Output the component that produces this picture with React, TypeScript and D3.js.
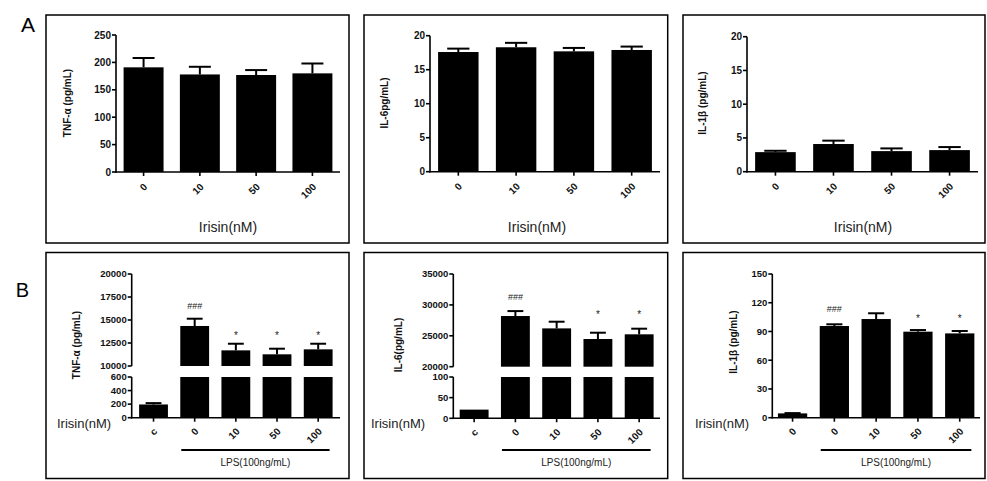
import React from "react";
import * as d3 from "d3";

// ---------- data ----------
const A_LABELS = ["0", "10", "50", "100"];
const B12_LABELS = ["c", "0", "10", "50", "100"];
const B3_LABELS = ["0", "0", "10", "50", "100"];

const TNF_A_MEAN = [191, 178, 177, 180];
const TNF_A_SEM = [17, 14, 9, 18];
const IL6_A_MEAN = [17.6, 18.3, 17.7, 17.9];
const IL6_A_SEM = [0.5, 0.65, 0.5, 0.5];
const IL1B_A_MEAN = [2.9, 4.1, 3.05, 3.2];
const IL1B_A_SEM = [0.2, 0.5, 0.4, 0.45];

const TNF_B_MEAN = [195, 14350, 11700, 11270, 11810];
const TNF_B_SEM = [20, 790, 720, 610, 610];
const IL6_B_MEAN = [21, 28200, 26200, 24480, 25240];
const IL6_B_SEM = [0, 800, 1080, 1020, 910];
const IL1B_B_MEAN = [4.5, 95.7, 103, 89.8, 88];
const IL1B_B_SEM = [0.3, 1.8, 6, 1.7, 2.5];

const TNF_B_SIG = ["", "###", "*", "*", "*"];
const TNF_B_SIG_AT = [0, 16550, 13590, 13590, 13590];
const IL6_B_SIG = ["", "###", "", "*", "*"];
const IL6_B_SIG_AT = [0, 31330, 0, 28900, 28900];
const IL1B_B_SIG = ["", "###", "", "*", "*"];
const IL1B_B_SIG_AT = [0, 113.5, 0, 106, 106];

const TICKS_TNF_A = [0, 50, 100, 150, 200, 250];
const TICKS_IL_A = [0, 5, 10, 15, 20];
const TICKS_TNF_B_LOW = [0, 200, 400, 600];
const TICKS_TNF_B_HIGH = [10000, 12500, 15000, 17500, 20000];
const TICKS_IL6_B_LOW = [0, 50, 100];
const TICKS_IL6_B_HIGH = [20000, 25000, 30000, 35000];
const TICKS_IL1B_B = [0, 30, 60, 90, 120, 150];

const FONT = "'Liberation Sans', Arial, Helvetica, sans-serif";

type Seg = { domain: [number, number]; range: [number, number]; ticks: number[] };

interface PanelProps {
  box: [number, number, number, number];
  axisX: number;
  xEnd: number;
  labels: string[];
  means: number[];
  sems: number[];
  lower: Seg;
  upper?: Seg;
  padInner: number;
  padOuter: number;
  yTitle: string;
  titleX: number;
  titleY: number;
  tickFont: number;
  sig?: string[];
  sigAt?: number[];
  row: "A" | "B";
  irisin: [number, number];
}

function Panel(p: PanelProps) {
  const idx = p.labels.map((_, i) => i);
  const x = d3
    .scaleBand<number>()
    .domain(idx)
    .range([p.axisX, p.xEnd])
    .paddingInner(p.padInner)
    .paddingOuter(p.padOuter);
  const bw = x.bandwidth();
  const yl = d3.scaleLinear().domain(p.lower.domain).range(p.lower.range);
  const yu = p.upper ? d3.scaleLinear().domain(p.upper.domain).range(p.upper.range) : null;
  const lowMax = p.lower.domain[1];
  const ypos = (v: number) => (yu && v > lowMax ? yu(v) : yl(v));
  const y0 = yl(0);
  const capW = bw * 0.55;

  const ticks: { v: number; y: number }[] = [
    ...p.lower.ticks.map((v) => ({ v, y: yl(v) })),
    ...(yu && p.upper ? p.upper.ticks.map((v) => ({ v, y: yu(v) })) : []),
  ];

  const [bx, by, bwid, bh] = p.box;

  let lps: React.ReactNode = null;
  if (p.row === "B") {
    const lx1 = (x(1) as number) + 1;
    const lx2 = (x(p.labels.length - 1) as number) + bw - 3;
    lps = (
      <g>
        <line x1={lx1} x2={lx2} y1={450} y2={450} stroke="#000" strokeWidth={2} />
        <text x={(lx1 + lx2) / 2} y={466} textAnchor="middle" fontSize={10} fontFamily={FONT} fill="#222">
          LPS(100ng/mL)
        </text>
      </g>
    );
  }

  return (
    <g>
      <rect x={bx} y={by} width={bwid} height={bh} fill="none" stroke="#000" strokeWidth={1.5} />
      {/* bars */}
      {p.means.map((m, i) => {
        const bxp = x(i) as number;
        if (yu && p.upper && m > p.upper.domain[0]) {
          return (
            <g key={i}>
              <rect x={bxp} y={yl(lowMax)} width={bw} height={y0 - yl(lowMax)} fill="#000" />
              <rect x={bxp} y={yu(m)} width={bw} height={yu(p.upper.domain[0]) - yu(m)} fill="#000" />
            </g>
          );
        }
        return <rect key={i} x={bxp} y={yl(m)} width={bw} height={y0 - yl(m)} fill="#000" />;
      })}
      {/* error bars */}
      {p.means.map((m, i) => {
        const cx = (x(i) as number) + bw / 2;
        const top = ypos(m + p.sems[i]);
        const base = ypos(m);
        if (p.sems[i] <= 0) return null;
        return (
          <g key={"e" + i} stroke="#000" strokeWidth={2}>
            <line x1={cx} x2={cx} y1={base} y2={top} />
            <line x1={cx - capW / 2} x2={cx + capW / 2} y1={top} y2={top} />
          </g>
        );
      })}
      {/* significance marks */}
      {p.sig &&
        p.sig.map((s, i) =>
          s ? (
            <text
              key={"s" + i}
              x={(x(i) as number) + bw / 2}
              y={ypos(p.sigAt![i]) + (s === "*" ? 6 : 3.5)}
              textAnchor="middle"
              fontSize={s === "*" ? 10 : 9}
              fontFamily={FONT}
              fill="#222"
            >
              {s}
            </text>
          ) : null
        )}
      {/* y axis */}
      <line x1={p.axisX} x2={p.axisX} y1={y0 + 0.75} y2={yl(lowMax)} stroke="#000" strokeWidth={1.6} />
      {yu && p.upper && (
        <line x1={p.axisX} x2={p.axisX} y1={yu(p.upper.domain[0])} y2={yu(p.upper.domain[1])} stroke="#000" strokeWidth={1.6} />
      )}
      {ticks.map((t, i) => (
        <g key={"t" + i}>
          <line x1={p.axisX - 4} x2={p.axisX} y1={t.y} y2={t.y} stroke="#000" strokeWidth={1.6} />
          <text
            x={p.axisX - 5}
            y={t.y}
            dy="0.35em"
            textAnchor="end"
            fontSize={p.tickFont}
            fontWeight="bold"
            fontFamily={FONT}
            fill="#111"
          >
            {t.v}
          </text>
        </g>
      ))}
      {/* x axis */}
      <line x1={p.axisX - 0.8} x2={p.xEnd} y1={y0} y2={y0} stroke="#000" strokeWidth={1.6} />
      {idx.map((i) => {
        const cx = (x(i) as number) + bw / 2;
        return (
          <g key={"x" + i}>
            <line x1={cx} x2={cx} y1={y0} y2={y0 + 4} stroke="#000" strokeWidth={1.6} />
            <text
              transform={`translate(${cx + 2},${y0 + (p.row === "A" ? 13 : 12)}) rotate(-45)`}
              dy="0.35em"
              textAnchor="end"
              fontSize={10}
              fontWeight="bold"
              fontFamily={FONT}
              fill="#111"
            >
              {p.labels[i]}
            </text>
          </g>
        );
      })}
      {/* y title */}
      <text
        transform={`translate(${p.titleX},${p.titleY}) rotate(-90)`}
        dy="0.35em"
        textAnchor="middle"
        fontSize={10}
        fontWeight="bold"
        fontFamily={FONT}
        fill="#111"
      >
        {p.yTitle}
      </text>
      {/* Irisin label */}
      <text
        x={p.irisin[0]}
        y={p.irisin[1]}
        dy="0.35em"
        textAnchor={p.row === "A" ? "middle" : "start"}
        fontSize={p.row === "A" ? 14 : 13}
        fontFamily={FONT}
        fill="#222"
      >
        Irisin(nM)
      </text>
      {lps}
    </g>
  );
}

export default function App() {
  return (
    <svg
      width={987}
      height={481}
      style={{ position: "absolute", left: 0, top: 0, background: "#fff" }}
    >
      <rect x={0} y={0} width={987} height={481} fill="#fff" />
      <text x={28} y={24.5} dy="0.35em" textAnchor="middle" fontSize={21} fontFamily={FONT} fill="#000">
        A
      </text>
      <text x={22.5} y={290} dy="0.35em" textAnchor="middle" fontSize={20} fontFamily={FONT} fill="#000">
        B
      </text>

      <Panel
        box={[46, 15, 303, 228]}
        axisX={116}
        xEnd={340}
        labels={A_LABELS}
        means={TNF_A_MEAN}
        sems={TNF_A_SEM}
        lower={{ domain: [0, 250], range: [172, 35], ticks: TICKS_TNF_A }}
        padInner={0.29}
        padOuter={0.135}
        yTitle="TNF-α (pg/mL)"
        titleX={67}
        titleY={103}
        tickFont={10}
        row="A"
        irisin={[228, 227]}
      />
      <Panel
        box={[364, 15, 303.7, 228]}
        axisX={430}
        xEnd={660}
        labels={A_LABELS}
        means={IL6_A_MEAN}
        sems={IL6_A_SEM}
        lower={{ domain: [0, 20], range: [171.7, 35.7], ticks: TICKS_IL_A }}
        padInner={0.3}
        padOuter={0.14}
        yTitle="IL-6pg/mL)"
        titleX={384}
        titleY={103}
        tickFont={10}
        row="A"
        irisin={[537, 227]}
      />
      <Panel
        box={[683, 15, 302, 228]}
        axisX={747}
        xEnd={978}
        labels={A_LABELS}
        means={IL1B_A_MEAN}
        sems={IL1B_A_SEM}
        lower={{ domain: [0, 20], range: [171.7, 36.7], ticks: TICKS_IL_A }}
        padInner={0.3}
        padOuter={0.14}
        yTitle="IL-1β (pg/mL)"
        titleX={702}
        titleY={103}
        tickFont={10}
        row="A"
        irisin={[863, 227]}
      />

      <Panel
        box={[46, 252.5, 303, 226]}
        axisX={131.7}
        xEnd={340}
        labels={B12_LABELS}
        means={TNF_B_MEAN}
        sems={TNF_B_SEM}
        lower={{ domain: [0, 600], range: [417.7, 377], ticks: TICKS_TNF_B_LOW }}
        upper={{ domain: [10000, 20000], range: [366, 274], ticks: TICKS_TNF_B_HIGH }}
        padInner={0.3}
        padOuter={0.18}
        yTitle="TNF-α  (pg/mL)"
        titleX={76}
        titleY={345}
        tickFont={9.5}
        sig={TNF_B_SIG}
        sigAt={TNF_B_SIG_AT}
        row="B"
        irisin={[57, 423]}
      />
      <Panel
        box={[364, 252.5, 303.7, 226]}
        axisX={453.3}
        xEnd={660}
        labels={B12_LABELS}
        means={IL6_B_MEAN}
        sems={IL6_B_SEM}
        lower={{ domain: [0, 100], range: [418.3, 377], ticks: TICKS_IL6_B_LOW }}
        upper={{ domain: [20000, 35000], range: [366.7, 274], ticks: TICKS_IL6_B_HIGH }}
        padInner={0.3}
        padOuter={0.155}
        yTitle="IL-6(pg/mL)"
        titleX={398}
        titleY={345}
        tickFont={9.5}
        sig={IL6_B_SIG}
        sigAt={IL6_B_SIG_AT}
        row="B"
        irisin={[371, 423]}
      />
      <Panel
        box={[683, 252.5, 302, 226]}
        axisX={772.3}
        xEnd={980}
        labels={B3_LABELS}
        means={IL1B_B_MEAN}
        sems={IL1B_B_SEM}
        lower={{ domain: [0, 150], range: [417.7, 274], ticks: TICKS_IL1B_B }}
        padInner={0.3}
        padOuter={0.135}
        yTitle="IL-1β (pg/mL)"
        titleX={733}
        titleY={342}
        tickFont={9.5}
        sig={IL1B_B_SIG}
        sigAt={IL1B_B_SIG_AT}
        row="B"
        irisin={[695, 423]}
      />
    </svg>
  );
}
